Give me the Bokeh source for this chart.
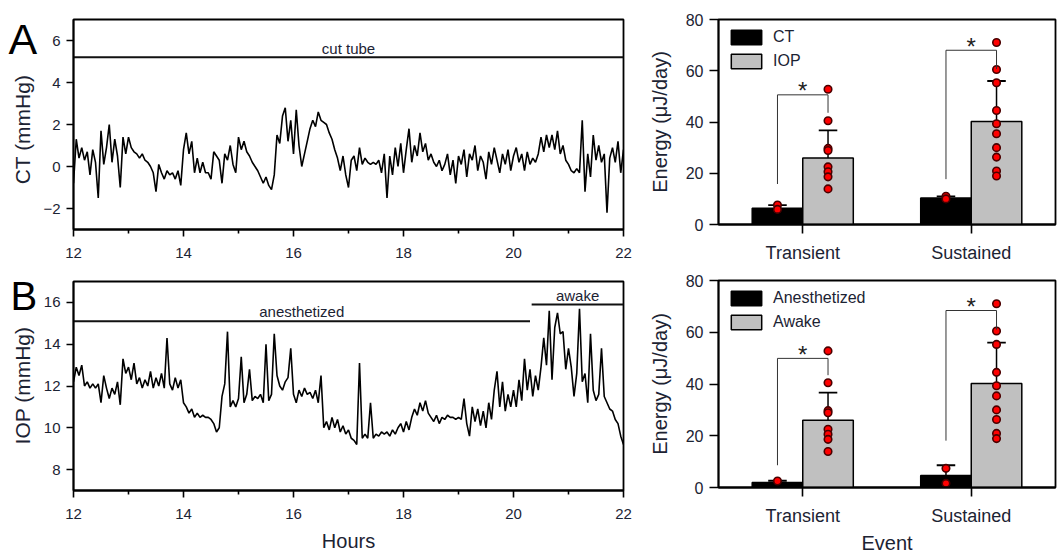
import numpy as np
from bokeh.plotting import figure
from bokeh.layouts import row, column
from bokeh.models import FixedTicker, Legend, LegendItem, Range1d
from bokeh.embed import file_html
from bokeh.resources import INLINE
from bokeh.core.properties import value

FONT = "Liberation Sans"
TXT = "#1c2333"

# ---------------- data ----------------
# time series sampled every 0.05 h from 12:00 to 22:00 (values read from the picture)
ct_values = [
    -0.8, 1.3, 0.4, 0.9, 0.3, 0.7, -0.4, 0.8, 0.2, -1.5, 1.7, 0.1, 0.9, 2.0, 0.2, 1.3, 0.5, -1.0, 1.4, 0.6,
    1.4, 0.9, 0.7, 0.6, 0.4, 0.6, 0.3, 0.2, 0.0, -0.3, -1.2, 0.1, -0.3, -0.6, -0.2, -0.4, -0.3, -0.6, -0.2, -0.9,
    0.8, 1.6, 0.6, 1.2, -0.3, 0.4, -0.3, 0.2, -0.3, -0.3, -0.6, 0.7, 0.5, 0.3, -0.8, 0.6, 0.3, 1.0, 0.1, -0.3,
    1.4, 0.8, 1.2, 0.7, 0.5, 0.2, 0.0, -0.2, -0.5, -0.8, -0.5, -0.9, -1.1, -0.4, 1.5, 1.1, 2.4, 2.8, 1.2, 2.2,
    0.6, 2.7, 1.0, 0.0, 0.6, 1.2, 1.8, 2.2, 1.9, 2.6, 2.2, 2.1, 2.0, 1.6, 1.3, 0.8, 0.4, -0.2, 0.5, -0.4,
    -1.0, 0.3, 0.5, -0.2, 0.9, 0.1, 0.4, 0.2, 0.1, 0.2, 0.1, 0.3, -0.3, 0.6, -1.5, 0.5, -0.4, 0.9, 0.0, 1.1,
    -0.3, 0.8, 1.8, 0.2, 1.0, 0.5, 1.6, 0.7, 1.1, 0.3, 0.6, 0.2, 0.0, 0.3, -0.2, 0.1, 0.6, -0.4, 0.3, -0.8,
    0.5, 0.1, 0.8, -0.5, 0.6, 0.3, 1.0, -0.2, 0.5, 0.2, -0.6, 0.7, 0.1, 0.9, 0.3, -0.3, 0.6, 0.1, 0.8, -0.2,
    0.5, 0.9, 0.2, 0.6, -0.2, 0.7, 0.1, 0.4, 0.2, 0.6, 1.4, 0.7, 1.5, 0.9, 1.5, 0.8, 1.7, 0.6, 1.0, 0.3,
    0.1, -0.2, -0.3, -0.1, -0.3, 2.2, -1.2, 0.6, -0.5, 1.5, 0.3, 1.0, 0.2, 0.6, -2.2, 0.4, 0.9, 0.2, 1.2, -0.3,
    0.8,
]
iop_values = [
    12.2, 12.9, 12.5, 13.0, 12.0, 12.2, 11.9, 12.1, 11.9, 12.1, 11.2, 12.5, 11.9, 11.4, 11.9, 11.6, 12.2, 11.1, 13.3, 12.6,
    12.9, 12.3, 13.1, 12.1, 12.4, 11.9, 12.3, 12.0, 12.7, 11.9, 12.4, 12.0, 12.6, 11.9, 14.3, 12.1, 11.8, 12.4, 11.9, 12.3,
    11.2, 11.0, 10.7, 10.9, 10.5, 10.7, 10.5, 10.6, 10.5, 10.5, 10.4, 10.2, 9.8, 10.0, 11.5, 12.1, 14.6, 11.0, 11.3, 11.0,
    11.4, 13.4, 11.2, 11.6, 12.8, 11.3, 11.5, 11.4, 11.6, 11.2, 14.0, 11.3, 11.6, 14.5, 12.5, 12.0, 11.8, 12.2, 12.4, 13.8,
    11.6, 11.2, 11.8, 11.5, 11.9, 11.6, 11.7, 11.4, 11.8, 11.2, 12.5, 10.0, 10.3, 9.9, 10.5, 10.0, 10.4, 9.8, 10.1, 9.7,
    9.9, 9.5, 9.4, 9.2, 13.1, 9.5, 9.7, 9.5, 11.2, 9.5, 9.7, 9.6, 9.8, 9.7, 9.8, 9.6, 9.9, 9.7, 10.0, 10.2,
    9.8, 10.3, 9.9, 10.5, 10.9, 10.6, 11.2, 10.8, 11.3, 10.7, 10.5, 10.3, 10.6, 10.2, 10.5, 10.4, 10.6, 10.5, 10.5, 10.4,
    10.5, 10.4, 11.4, 10.2, 9.6, 11.0, 10.3, 10.9, 10.1, 10.8, 10.0, 11.2, 10.4, 11.8, 12.7, 11.0, 12.2, 10.8, 11.6, 11.0,
    11.8, 11.0, 12.3, 11.3, 13.3, 11.8, 12.8, 11.5, 12.5, 11.8, 12.9, 14.3, 13.0, 15.6, 12.3, 14.8, 15.5, 14.5, 14.6, 12.8,
    13.8, 12.9, 11.5, 12.6, 15.7, 12.2, 12.6, 11.2, 14.5, 11.8, 11.3, 11.6, 13.8, 11.5, 11.2, 10.9, 10.8, 10.4, 10.2, 9.6,
    9.2,
]
hours = np.round(12.0 + 0.05 * np.arange(len(ct_values)), 2)

hour_ticks = [12, 14, 16, 18, 20, 22]
hour_minor = [13, 15, 17, 19, 21]
ct_ticks = [-2, 0, 2, 4, 6]
iop_ticks = [8, 10, 12, 14, 16]

# condition bars drawn over the traces
ct_events = {"label": ["cut tube"], "x0": [12.0], "x1": [22.0], "y": [5.2], "ty": [5.6]}
iop_events = {"label": ["anesthetized", "awake"], "x0": [12.0, 20.33], "x1": [20.3, 22.0],
              "y": [15.1, 15.9], "ty": [15.57, 16.33]}

panel_letters = ["A", "B"]
ts_ylabels = ["CT (mmHg)", "IOP (mmHg)"]

categories = ["Transient", "Sustained"]
energy_ticks = [0, 20, 40, 60, 80]

ct_mean = [6.3, 10.3]
ct_err = [7.6, 11.0]
ct_pts = [[7.6, 5.9], [11.0, 10.0]]
iop_mean = [26.0, 40.2]
iop_err = [36.7, 56.0]
iop_pts = [[52.8, 40.5, 29.7, 28.9, 22.5, 20.6, 18.6, 13.9],
           [71.0, 60.5, 55.3, 44.5, 39.3, 35.4, 30.0, 26.3, 20.9, 18.9]]

anes_mean = [1.9, 4.6]
anes_err = [2.6, 8.6]
anes_pts = [[2.5], [7.4, 1.6]]
awake_mean = [26.0, 40.2]
awake_err = [36.7, 56.0]
awake_pts = [[52.8, 40.5, 29.7, 28.9, 22.5, 20.6, 18.6, 13.9],
             [71.0, 60.5, 55.3, 44.5, 39.3, 35.4, 30.0, 26.3, 20.9, 18.9]]

# significance brackets: left foot, top, right foot
sig_top = {"left": [15.8, 17.7], "top": [50.6, 68.0], "right": [43.6, 60.7]}
sig_bot = {"left": [8.6, 18.1], "top": [49.9, 68.4], "right": [43.4, 61.0]}

BAR_W = 0.3
STRIP_W = 40
H_TOP, H_BOT = 265, 291
H_ALL = H_TOP + H_BOT


def style_axes(p, tick_size, major_out=7):
    p.xgrid.visible = False
    p.ygrid.visible = False
    p.outline_line_color = "black"
    p.outline_line_width = 1.8
    p.background_fill_color = "white"
    p.border_fill_color = "white"
    for ax in (p.xaxis[0], p.yaxis[0]):
        ax.axis_line_width = 1.8
        ax.axis_line_color = "black"
        ax.major_tick_line_color = "black"
        ax.minor_tick_line_color = "black"
        ax.major_tick_line_width = 1.6
        ax.minor_tick_line_width = 1.6
        ax.major_tick_in = 0
        ax.major_tick_out = major_out
        ax.minor_tick_in = 0
        ax.minor_tick_out = 4
        ax.major_label_text_font = FONT
        ax.major_label_text_font_size = tick_size
        ax.major_label_text_color = TXT
        ax.axis_label_text_font = FONT
        ax.axis_label_text_font_style = "normal"
        ax.axis_label_text_color = TXT


def ts_panel(vals, yr, yticks, events, h, top, bottom, xlabel=None):
    p = figure(width=640 - STRIP_W, height=h, x_range=Range1d(12, 22), y_range=Range1d(*yr),
               output_backend="svg", toolbar_location=None, title=None,
               min_border_left=72 - STRIP_W, min_border_right=17, min_border_top=top,
               min_border_bottom=bottom)
    style_axes(p, "15px")
    p.xaxis.ticker = FixedTicker(ticks=hour_ticks, minor_ticks=hour_minor)
    p.yaxis.ticker = FixedTicker(ticks=yticks)
    p.xaxis.major_label_standoff = 11
    p.yaxis.major_label_standoff = 6
    if xlabel:
        p.xaxis.axis_label = xlabel
        p.xaxis.axis_label_text_font_size = "20px"
        p.xaxis.axis_label_standoff = 8
    p.line(hours, vals, line_color="black", line_width=1.6)
    p.segment(x0=events["x0"], y0=events["y"], x1=events["x1"], y1=events["y"],
              line_color="#111111", line_width=2)
    p.text(x=[(a + b) / 2 for a, b in zip(events["x0"], events["x1"])], y=events["ty"],
           text=events["label"], text_align="center", text_baseline="middle",
           text_font=value(FONT), text_font_size="15px", text_color=TXT)
    return p


def strip_panel():
    # narrow full-height canvas at the far left holding the panel letters and y-axis titles
    p = figure(width=STRIP_W, height=H_ALL, x_range=Range1d(0, STRIP_W), y_range=Range1d(0, H_ALL),
               output_backend="svg", toolbar_location=None, title=None, min_border=0)
    p.axis.visible = False
    p.grid.visible = False
    p.outline_line_color = None
    p.border_fill_color = "white"
    p.text(x=[8], y=[H_ALL - 38], text=[panel_letters[0]], text_align="left",
           text_baseline="alphabetic", text_font=value(FONT), text_font_size="43px",
           text_color="black")
    p.text(x=[10], y=[H_ALL - 295], text=[panel_letters[1]], text_align="left",
           text_baseline="alphabetic", text_font=value(FONT), text_font_size="40px",
           text_color="black")
    p.text(x=[22, 22], y=[H_ALL - 129, H_ALL - 385], text=ts_ylabels, angle=np.pi / 2,
           text_align="center", text_baseline="middle", text_font=value(FONT),
           text_font_size="21px", text_color=TXT)
    return p


def bar_panel(m1, e1, pts1, m2, e2, pts2, names, sig, h, top, bottom, xlabel=None):
    p = figure(width=421, height=h, x_range=Range1d(0, 2), y_range=Range1d(0, 80),
               output_backend="svg", toolbar_location=None, title=None,
               min_border_left=78, min_border_right=6, min_border_top=top, min_border_bottom=bottom)
    style_axes(p, "16px", major_out=9)
    centers = [i + 0.5 for i in range(len(categories))]
    p.xaxis.ticker = FixedTicker(ticks=centers)
    p.xaxis.major_label_overrides = {c: cat for c, cat in zip(centers, categories)}
    p.xaxis.major_label_text_font_size = "18px"
    p.xaxis.major_label_standoff = 9
    p.yaxis.ticker = FixedTicker(ticks=energy_ticks)
    p.yaxis.major_label_standoff = 6
    p.yaxis.axis_label = "Energy (\u03bcJ/day)"
    p.yaxis.axis_label_text_font_size = "20px"
    p.yaxis.axis_label_standoff = 12
    if xlabel:
        p.xaxis.axis_label = xlabel
        p.xaxis.axis_label_text_font_size = "20px"
        p.xaxis.axis_label_standoff = 3
    x1 = [c - BAR_W / 2 for c in centers]
    x2 = [c + BAR_W / 2 for c in centers]
    r1 = p.vbar(x=x1, top=m1, width=BAR_W, fill_color="black", line_color="black", line_width=1.5)
    r2 = p.vbar(x=x2, top=m2, width=BAR_W, fill_color="#c0c0c0", line_color="black", line_width=1.5)
    for xs, ms, es in ((x1, m1, e1), (x2, m2, e2)):
        p.segment(x0=xs, y0=ms, x1=xs, y1=es, line_color="black", line_width=1.5)
        p.segment(x0=[x - 0.055 for x in xs], y0=es, x1=[x + 0.055 for x in xs], y1=es,
                  line_color="black", line_width=1.8)
    for xs, pts in ((x1, pts1), (x2, pts2)):
        px, py = [], []
        for x, vals in zip(xs, pts):
            px += [x] * len(vals)
            py += vals
        p.scatter(px, py, size=7.5, fill_color="#ff0000", line_color="#4a0000", line_width=1.6)
    # significance brackets
    p.segment(x0=x1, y0=sig["left"], x1=x1, y1=sig["top"], line_color="#333333", line_width=1)
    p.segment(x0=x1, y0=sig["top"], x1=x2, y1=sig["top"], line_color="#333333", line_width=1)
    p.segment(x0=x2, y0=sig["top"], x1=x2, y1=sig["right"], line_color="#333333", line_width=1)
    p.text(x=centers, y=[t + 1.5 for t in sig["top"]], text=["*"] * len(centers),
           text_align="center", text_baseline="middle", text_font=value(FONT),
           text_font_size="24px", text_color="#222222")
    legend = Legend(items=[LegendItem(label=names[0], renderers=[r1]),
                           LegendItem(label=names[1], renderers=[r2])],
                    location="top_left", glyph_width=38, glyph_height=18, spacing=6,
                    padding=3, margin=6, label_standoff=8, border_line_alpha=0,
                    background_fill_alpha=0, label_text_font=FONT,
                    label_text_font_size="16px", label_text_color=TXT)
    p.add_layout(legend)
    return p


tl = ts_panel(ct_values, (-3, 7), ct_ticks, ct_events, H_TOP, 19, 36)
bl = ts_panel(iop_values, (7, 17), iop_ticks, iop_events, H_BOT, 16, 66, xlabel="Hours")
tr = bar_panel(ct_mean, ct_err, ct_pts, iop_mean, iop_err, iop_pts, ["CT", "IOP"], sig_top,
               H_TOP, 19, 35)
br = bar_panel(anes_mean, anes_err, anes_pts, awake_mean, awake_err, awake_pts,
               ["Anesthetized", "Awake"], sig_bot, H_BOT, 15, 65, xlabel="Event")

layout = row(strip_panel(), column(tl, bl), column(tr, br))
open("out.html", "w").write(file_html(layout, INLINE))
